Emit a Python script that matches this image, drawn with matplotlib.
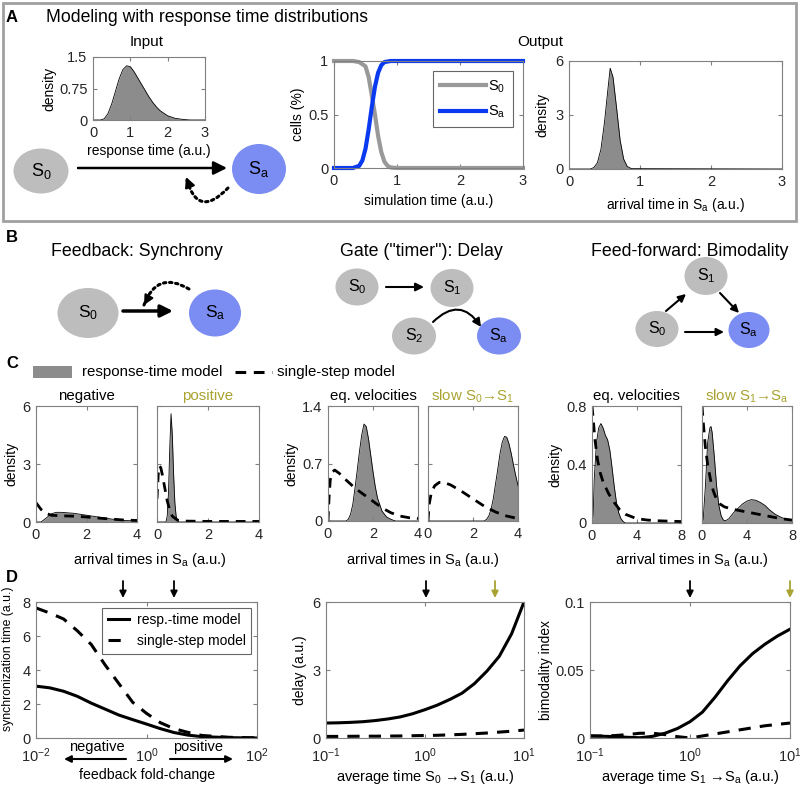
import numpy as np
import matplotlib
matplotlib.use('Agg')
import matplotlib.pyplot as plt
from matplotlib.patches import Ellipse, Rectangle, FancyArrowPatch

plt.rcParams['font.family'] = ['Liberation Sans', 'DejaVu Sans']
plt.rcParams['mathtext.fontset'] = 'custom'
plt.rcParams['mathtext.rm'] = 'Liberation Sans'
plt.rcParams['mathtext.it'] = 'Liberation Sans:italic'

W, H = 800, 786
OLIVE = '#a9a331'
FILL = '#8c8c8c'
GRAYC = '#bdbdbd'
BLUEC = '#7b8cf2'

# ---- panel A data
in_t = [0, 0.2, 0.3, 0.4, 0.5, 0.6, 0.7, 0.8, 0.9, 1.0, 1.1, 1.2, 1.3, 1.4,
        1.5, 1.6, 1.7, 1.8, 2.0, 2.2, 2.4, 2.6, 3.0]
in_dens = [0, 0, 0.03, 0.15, 0.38, 0.68, 0.98, 1.2, 1.29, 1.27, 1.15, 1.0,
           0.85, 0.7, 0.55, 0.42, 0.31, 0.22, 0.1, 0.04, 0.015, 0, 0]

sim_t_a = [0, 0.3, 0.4, 0.45, 0.5, 0.55, 0.6, 0.65, 0.7, 0.75, 0.8, 0.9, 1, 3]
cells_sa = [0, 0, 0.02, 0.07, 0.18, 0.36, 0.57, 0.76, 0.89, 0.96, 0.99, 1, 1, 1]
sim_t_0 = [0, 0.3, 0.4, 0.5, 0.55, 0.6, 0.65, 0.7, 0.75, 0.8, 0.85, 0.9, 1, 3]
cells_s0 = [1, 1, 0.99, 0.95, 0.85, 0.68, 0.5, 0.3, 0.15, 0.06, 0.02, 0.005, 0, 0]

out_t = [0, 0.3, 0.35, 0.4, 0.45, 0.5, 0.55, 0.58, 0.62, 0.67, 0.72, 0.77,
         0.82, 0.88, 3]
out_dens = [0, 0, 0.08, 0.35, 1.1, 2.6, 4.5, 5.6, 5.1, 3.4, 1.6, 0.55, 0.14,
            0.02, 0]

# ---- panel C data (x, response-time density, x, single-step density)
neg_x = [0, 0.2, 0.4, 0.6, 0.8, 1.0, 1.5, 2.0, 2.5, 3.0, 3.5, 4]
neg_rt = [0, 0, 0.2, 0.42, 0.5, 0.5, 0.45, 0.35, 0.25, 0.15, 0.08, 0.05]
neg_sx = [0, 0.2, 0.4, 0.6, 1, 1.5, 2, 2.5, 3, 3.5, 4]
neg_ss = [1.0, 0.65, 0.45, 0.35, 0.32, 0.3, 0.26, 0.2, 0.15, 0.1, 0.08]

pos_x = [0, 0.35, 0.4, 0.45, 0.5, 0.55, 0.6, 0.65, 0.7, 0.75, 0.8, 0.85, 4]
pos_rt = [0, 0, 0.3, 1.5, 3.8, 5.6, 4.5, 2.5, 1.0, 0.3, 0.08, 0, 0]
pos_sx = [0, 0.05, 0.1, 0.15, 0.2, 0.3, 0.4, 0.5, 0.6, 0.8, 1, 2, 3, 4]
pos_ss = [1.2, 2.5, 2.9, 2.8, 2.5, 1.8, 1.1, 0.6, 0.3, 0.1, 0.05, 0.03, 0.03, 0.03]

geq_x = [0, 0.8, 0.9, 1.0, 1.1, 1.2, 1.3, 1.4, 1.5, 1.6, 1.7, 1.8, 1.9, 2.0,
         2.1, 2.2, 2.4, 2.6, 2.8, 3, 4]
geq_rt = [0, 0, 0.02, 0.08, 0.2, 0.4, 0.62, 0.85, 1.05, 1.18, 1.15, 1.0, 0.8,
          0.6, 0.42, 0.28, 0.12, 0.05, 0.02, 0, 0]
geq_sx = [0, 0.05, 0.1, 0.2, 0.3, 0.5, 0.8, 1.2, 1.6, 2.0, 2.4, 2.8, 3.2, 3.6, 4]
geq_ss = [0, 0.3, 0.5, 0.6, 0.62, 0.58, 0.5, 0.4, 0.32, 0.24, 0.16, 0.1, 0.06,
          0.04, 0.03]

gsl_x = [0, 2.5, 2.6, 2.7, 2.8, 2.9, 3.0, 3.1, 3.2, 3.3, 3.4, 3.5, 3.6, 3.7,
         3.8, 3.9, 4]
gsl_rt = [0, 0, 0.02, 0.06, 0.14, 0.27, 0.45, 0.63, 0.82, 0.96, 1.03, 1.02,
          0.94, 0.82, 0.68, 0.55, 0.43]
gsl_sx = [0, 0.05, 0.15, 0.3, 0.5, 0.7, 1.0, 1.5, 2.0, 2.5, 3.0, 3.5, 4]
gsl_ss = [0, 0.2, 0.35, 0.43, 0.47, 0.47, 0.44, 0.36, 0.27, 0.18, 0.11, 0.06, 0.03]

feq_x = [0, 0.1, 0.2, 0.4, 0.6, 0.8, 1.0, 1.2, 1.4, 1.6, 1.8, 2.0, 2.2, 2.4,
         2.6, 2.8, 3.0, 8]
feq_rt = [0, 0.05, 0.3, 0.55, 0.65, 0.68, 0.65, 0.6, 0.57, 0.5, 0.38, 0.25,
          0.14, 0.07, 0.03, 0.01, 0, 0]
feq_sx = [0, 0.1, 0.25, 0.5, 0.75, 1.0, 1.5, 2.0, 2.5, 3.0, 4, 5, 6, 8]
feq_ss = [0.8, 0.72, 0.58, 0.43, 0.34, 0.28, 0.2, 0.14, 0.09, 0.06, 0.03, 0.02,
          0.015, 0.01]

fsl_x = [0, 0.1, 0.3, 0.5, 0.7, 0.8, 0.9, 1.1, 1.3, 1.5, 1.7, 1.9, 2.1, 2.4,
         2.8, 3.2, 3.6, 4.0, 4.4, 4.8, 5.2, 5.6, 6, 6.5, 7, 7.5, 8]
fsl_rt = [0, 0.02, 0.25, 0.55, 0.65, 0.66, 0.62, 0.45, 0.25, 0.12, 0.05, 0.02,
          0.015, 0.03, 0.07, 0.1, 0.13, 0.15, 0.16, 0.155, 0.14, 0.12, 0.09,
          0.06, 0.04, 0.025, 0.02]
fsl_sx = [0, 0.1, 0.3, 0.5, 0.8, 1.0, 1.3, 1.6, 2.0, 2.5, 3, 4, 5, 6, 7, 8]
fsl_ss = [0.8, 0.7, 0.52, 0.4, 0.28, 0.22, 0.16, 0.13, 0.11, 0.1, 0.09, 0.075,
          0.06, 0.045, 0.03, 0.02]

# ---- panel D data
fold = [0.01, 0.0178, 0.0316, 0.0562, 0.1, 0.178, 0.316, 0.562, 1, 1.78,
        3.16, 5.62, 10, 31.6, 100]
sync_rt = [3.05, 2.95, 2.75, 2.45, 2.05, 1.7, 1.35, 1.08, 0.82, 0.55, 0.32,
           0.17, 0.08, 0.02, 0]
sync_ss = [7.65, 7.35, 7.0, 6.3, 5.5, 4.3, 3.2, 2.1, 1.45, 0.9, 0.55, 0.33,
           0.15, 0.04, 0.01]

avg_t = [0.1, 0.133, 0.178, 0.237, 0.316, 0.422, 0.562, 0.75, 1, 1.33, 1.78,
         2.37, 3.16, 4.22, 5.62, 7.5, 10]
delay_rt = [0.66, 0.67, 0.69, 0.72, 0.77, 0.84, 0.93, 1.07, 1.25, 1.45, 1.7,
            1.98, 2.4, 2.95, 3.6, 4.6, 6.0]
delay_ss = [0.07, 0.07, 0.075, 0.08, 0.08, 0.085, 0.09, 0.1, 0.11, 0.12, 0.14,
            0.16, 0.19, 0.22, 0.26, 0.3, 0.35]
bimod_rt = [0.0015, 0.0013, 0.001, 0.0005, 0.0002, 0.0012, 0.0035, 0.007,
            0.012, 0.019, 0.03, 0.042, 0.053, 0.062, 0.069, 0.075, 0.08]
bimod_ss = [0.0015, 0.0015, 0.0018, 0.0025, 0.0035, 0.0035, 0.0025, 0.001,
            0.0, 0.0015, 0.003, 0.0045, 0.006, 0.0075, 0.009, 0.010, 0.011]


def rect(x0, y0, x1, y1):
    return [x0/W, 1-y1/H, (x1-x0)/W, (y1-y0)/H]


def style(ax):
    for s in ax.spines.values():
        s.set_color('#808080')
        s.set_linewidth(0.8)
    ax.tick_params(direction='in', top=True, right=True, length=3,
                   color='#808080', labelcolor='#262626', labelsize=10.5,
                   pad=4)
    ax.tick_params(which='minor', length=0)


def dens(ax, x, y, xs, ys):
    ax.fill_between(x, y, color=FILL, lw=0)
    ax.plot(x, y, color='k', lw=0.6)
    if xs is not None:
        ax.plot(xs, ys, 'k--', lw=2, dashes=(3.5, 2.5))


fig = plt.figure(figsize=(8, 7.86), dpi=100)

ov = fig.add_axes([0, 0, 1, 1])
ov.set_xlim(0, W)
ov.set_ylim(H, 0)
ov.axis('off')


def node(x, y, w, h, color, label, fs):
    ov.add_patch(Ellipse((x, y), w, h, color=color, lw=0))
    ov.text(x, y, label, ha='center', va='center', fontsize=fs)


def arrow(p0, p1, lw=2, ms=15, color='k', rad=0.0):
    ov.annotate('', xy=p1, xytext=p0,
                arrowprops=dict(arrowstyle='-|>', lw=lw, color=color,
                                mutation_scale=ms, shrinkA=0, shrinkB=0,
                                connectionstyle='arc3,rad=%g' % rad))


def dotted(p0, p1, rad, head0, ms=13):
    ov.add_patch(FancyArrowPatch(p0, p1, arrowstyle='-', lw=2.2, color='k',
                                 linestyle=(0, (0.8, 1.2)),
                                 connectionstyle='arc3,rad=%g' % rad,
                                 shrinkA=0, shrinkB=0))
    arrow(head0, p1, lw=1.5, ms=ms)


# ---------------- panel A
ov.add_patch(Rectangle((3, 3), 793, 218, fill=False, ec='#a0a0a0', lw=2))
ov.text(6, 18, 'A', fontsize=12, fontweight='bold', va='center')
ov.text(207, 18, 'Modeling with response time distributions', fontsize=12.7,
        ha='center', va='center')
ov.text(147, 42, 'Input', fontsize=11, ha='center', va='center')
ov.text(540, 42, 'Output', fontsize=11, ha='center', va='center')

node(41, 171, 55, 45, GRAYC, 'S$_0$', 13)
node(259, 169, 54, 50, BLUEC, 'S$_\\mathrm{a}$', 13)
arrow((78, 168), (227, 168), lw=1.8, ms=20)
dotted((228, 188), (186, 177), -0.9, (190, 187), ms=15)

ax = fig.add_axes(rect(93, 57, 205, 120))
dens(ax, in_t, in_dens, None, None)
ax.set_xlim(0, 3)
ax.set_ylim(0, 1.5)
ax.set_xticks([0, 1, 2, 3])
ax.set_yticks([0, 0.75, 1.5])
ax.set_yticklabels(['0', '0.75', '1.5'])
ax.set_ylabel('density', fontsize=10, labelpad=2)
ax.set_xlabel('response time (a.u.)', fontsize=10, labelpad=3)
style(ax)

ax = fig.add_axes(rect(334, 61, 523, 168))
ax.plot(sim_t_0, cells_s0, color='#999999', lw=3, label='S$_0$', clip_on=False)
ax.plot(sim_t_a, cells_sa, color='#0a3af0', lw=3, label='S$_\\mathrm{a}$',
        clip_on=False)
ax.set_xlim(0, 3)
ax.set_ylim(0, 1)
ax.set_xticks([0, 1, 2, 3])
ax.set_yticks([0, 0.5, 1])
ax.set_yticklabels(['0', '0.5', '1'])
ax.set_ylabel('cells (%)', fontsize=10, labelpad=2)
ax.set_xlabel('simulation time (a.u.)', fontsize=10, labelpad=5)
leg = ax.legend(loc='upper right', fontsize=10.5, fancybox=False,
                edgecolor='#404040', handlelength=3.2, handletextpad=0.1,
                borderaxespad=0.7, borderpad=0.5, labelspacing=0.6)
leg.get_frame().set_linewidth(0.8)
style(ax)

ax = fig.add_axes(rect(569, 61, 782, 169))
dens(ax, out_t, out_dens, None, None)
ax.set_xlim(0, 3)
ax.set_ylim(0, 6)
ax.set_xticks([0, 1, 2, 3])
ax.set_yticks([0, 3, 6])
ax.set_ylabel('density', fontsize=10, labelpad=4)
ax.set_xlabel('arrival time in S$_\\mathrm{a}$ (a.u.)', fontsize=10, labelpad=5)
style(ax)

# ---------------- panel B
ov.text(6, 238, 'B', fontsize=12, fontweight='bold', va='center')
ov.text(137, 251, 'Feedback: Synchrony', fontsize=12.8, ha='center',
        va='center')
ov.text(421, 251, 'Gate ("timer"): Delay', fontsize=12.8, ha='center',
        va='center')
ov.text(690, 251, 'Feed-forward: Bimodality', fontsize=12.8, ha='center',
        va='center')

node(88, 313, 61, 50, GRAYC, 'S$_0$', 12.5)
node(215, 313, 52, 47, BLUEC, 'S$_\\mathrm{a}$', 12.5)
arrow((123, 311), (173, 311), lw=2.5, ms=18)
dotted((189, 289), (144, 305), 0.6, (149, 296), ms=14)

node(357, 287, 43, 37, GRAYC, 'S$_0$', 11.5)
node(452, 288, 43, 38, GRAYC, 'S$_1$', 11.5)
node(414, 336, 44, 37, GRAYC, 'S$_2$', 11.5)
node(499, 336, 44, 37, BLUEC, 'S$_\\mathrm{a}$', 11.5)
arrow((386, 287), (424, 287), lw=1.5, ms=12)
arrow((433, 322), (481, 327), lw=1.5, ms=12, rad=-0.6)

node(706, 276, 43, 38, GRAYC, 'S$_1$', 11.5)
node(657, 329, 43, 36, GRAYC, 'S$_0$', 11.5)
node(749, 330, 41, 36, BLUEC, 'S$_\\mathrm{a}$', 11.5)
arrow((666, 311), (686, 294), lw=1.5, ms=11)
arrow((720, 293), (739, 313), lw=1.5, ms=11)
arrow((685, 332), (724, 332), lw=1.5, ms=11)

# ---------------- panel C
ov.text(6, 363, 'C', fontsize=12, fontweight='bold', va='center')
ov.add_patch(Rectangle((33, 366), 39, 12, color=FILL, lw=0))
ov.text(82, 372, 'response-time model', fontsize=10.8, va='center')
ov.plot([235, 272], [372, 372], 'k--', lw=2.2, dashes=(3.5, 2.5))
ov.text(277, 372, 'single-step model', fontsize=10.8, va='center')

c_specs = [
    ((36, 406, 137, 522), neg_x, neg_rt, neg_sx, neg_ss, 4, 6, [0, 3, 6],
     'negative', 'k', True, [0, 2, 4]),
    ((157, 406, 259, 522), pos_x, pos_rt, pos_sx, pos_ss, 4, 6, [0, 3, 6],
     'positive', OLIVE, False, [0, 2, 4]),
    ((328, 406, 418, 521), geq_x, geq_rt, geq_sx, geq_ss, 4, 1.4,
     [0, 0.7, 1.4], 'eq. velocities', 'k', True, [0, 2, 4]),
    ((428, 406, 518, 521), gsl_x, gsl_rt, gsl_sx, gsl_ss, 4, 1.4,
     [0, 0.7, 1.4], 'slow S$_0$\u2192S$_1$', OLIVE, False, [0, 2, 4]),
    ((592, 406, 681, 523), feq_x, feq_rt, feq_sx, feq_ss, 8, 0.8,
     [0, 0.4, 0.8], 'eq. velocities', 'k', True, [0, 4, 8]),
    ((702, 406, 792, 523), fsl_x, fsl_rt, fsl_sx, fsl_ss, 8, 0.8,
     [0, 0.4, 0.8], 'slow S$_1$\u2192S$_\\mathrm{a}$', OLIVE, False, [0, 4, 8]),
]
for box, x, y, xs, ys, xm, ym, yt, title, tc, ylab, xt in c_specs:
    ax = fig.add_axes(rect(*box))
    dens(ax, x, y, xs, ys)
    ax.set_xlim(0, xm)
    ax.set_ylim(0, ym)
    ax.set_xticks(xt)
    ax.set_yticks(yt)
    ax.set_yticklabels([('%g' % v) for v in yt])
    if ylab:
        ax.set_ylabel('density', fontsize=10, labelpad=3)
    else:
        ax.set_yticklabels([])
    ax.set_title(title, fontsize=10.8, color=tc, pad=4)
    style(ax)

for xc in [150, 423, 692]:
    ov.text(xc, 560, 'arrival times in S$_\\mathrm{a}$ (a.u.)', fontsize=10.5,
            ha='center', va='center')

# ---------------- panel D
ov.text(6, 577, 'D', fontsize=12, fontweight='bold', va='center')

ax = fig.add_axes(rect(36, 602, 257, 738))
ax.plot(fold, sync_rt, 'k-', lw=2.2, label='resp.-time model')
ax.plot(fold, sync_ss, 'k--', lw=2.2, dashes=(4, 3), label='single-step model')
ax.set_xscale('log')
ax.set_xlim(1e-2, 1e2)
ax.set_ylim(0, 8)
ax.set_xticks([1e-2, 1, 1e2])
ax.set_yticks([0, 2, 4, 6, 8])
ax.set_ylabel('synchronization time (a.u.)', fontsize=8.8)
ax.yaxis.set_label_coords(-0.1, 0.585)
leg = ax.legend(loc='upper right', fontsize=10, fancybox=False,
                edgecolor='#404040', handlelength=1.5, handletextpad=0.6,
                borderaxespad=0.4)
leg.get_frame().set_linewidth(0.8)
style(ax)
ax.tick_params(axis='x', pad=6)
ov.text(147, 775, 'feedback fold-change', fontsize=10.2, ha='center',
        va='center')
ov.text(97, 747, 'negative', fontsize=10.5, ha='center', va='center')
ov.text(198, 747, 'positive', fontsize=10.5, ha='center', va='center')
arrow((126, 759), (64, 759), lw=1.5, ms=10)
arrow((170, 759), (233, 759), lw=1.5, ms=10)
for xa in [123, 174]:
    arrow((xa, 581), (xa, 598), lw=1.3, ms=10)

ax = fig.add_axes(rect(326, 602, 524, 738))
ax.plot(avg_t, delay_rt, 'k-', lw=2.2)
ax.plot(avg_t, delay_ss, 'k--', lw=2.2, dashes=(4, 3))
ax.set_xscale('log')
ax.set_xlim(0.1, 10)
ax.set_ylim(0, 6)
ax.set_xticks([0.1, 1, 10])
ax.set_yticks([0, 3, 6])
ax.set_ylabel('delay (a.u.)', fontsize=10, labelpad=4)
style(ax)
ax.tick_params(axis='x', pad=6)
ov.text(425, 777, 'average time S$_0$ \u2192S$_1$ (a.u.)', fontsize=10.5,
        ha='center', va='center')
arrow((426, 581), (426, 598), lw=1.3, ms=10)
arrow((495, 581), (495, 598), lw=1.3, ms=10, color=OLIVE)

ax = fig.add_axes(rect(590, 602, 790, 738))
ax.plot(avg_t, bimod_rt, 'k-', lw=2.2)
ax.plot(avg_t, bimod_ss, 'k--', lw=2.2, dashes=(4, 3))
ax.set_xscale('log')
ax.set_xlim(0.1, 10)
ax.set_ylim(0, 0.1)
ax.set_xticks([0.1, 1, 10])
ax.set_yticks([0, 0.05, 0.1])
ax.set_yticklabels(['0', '0.05', '0.1'])
ax.set_ylabel('bimodality index', fontsize=10, labelpad=2)
style(ax)
ax.tick_params(axis='x', pad=6)
ov.text(690, 777, 'average time S$_1$ \u2192S$_\\mathrm{a}$ (a.u.)',
        fontsize=10.5, ha='center', va='center')
arrow((690, 581), (690, 598), lw=1.3, ms=10)
arrow((790, 581), (790, 598), lw=1.3, ms=10, color=OLIVE)

fig.savefig('out.png', dpi=100)
